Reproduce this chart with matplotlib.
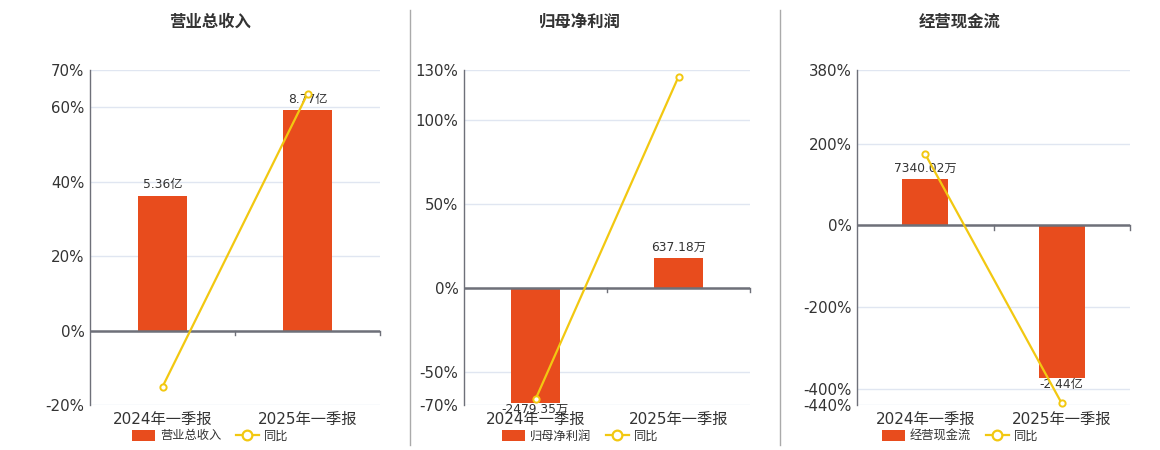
import matplotlib
matplotlib.use('Agg')
import matplotlib.pyplot as plt
from matplotlib.lines import Line2D
from matplotlib.patches import Patch

plt.rcParams['font.family'] = ['DejaVu Sans', 'Noto Sans CJK SC']

# data
periods = ['2024年一季报', '2025年一季报']
titles = ['营业总收入', '归母净利润', '经营现金流']
series_names = ['营业总收入', '归母净利润', '经营现金流']
bar_values = [[5.36, 8.77], [-2479.35, 637.18], [7340.02, -24400.0]]
bar_labels = [['5.36亿', '8.77亿'], ['-2479.35万', '637.18万'], ['7340.02万', '-2.44亿']]
yoy = [[-15.1, 63.6], [-66.6, 126.0], [174.0, -436.0]]
yticks = [[-20, 0, 20, 40, 60, 70], [-70, -50, 0, 50, 100, 130], [-440, -400, -200, 0, 200, 380]]

BAR = '#e84c1d'
LINE = '#f2c811'
TXT = '#333333'
AXC = '#6e7079'
GRID = '#e0e6f1'

W, H = 1160, 450
fig = plt.figure(figsize=(W / 100, H / 100), dpi=100)

# axes boxes in pixels: left, right, top, bottom
boxes = [(90, 380, 70, 405), (464, 750, 70, 405), (857, 1130, 70, 405)]
centers = [210, 580, 960]
# percent level the largest bar reaches (pixel layout of the original)
bar_reach = [59.3, -68.8, -374.6]

for i in range(3):
    l, r, t, b = boxes[i]
    ax_b = fig.add_axes([l / W, 1 - b / H, (r - l) / W, (b - t) / H])
    ax = ax_b.twinx()
    ax.set_zorder(ax_b.get_zorder() + 1)
    ax.patch.set_visible(False)

    lo, hi = yticks[i][0], yticks[i][-1]
    ax.set_ylim(lo, hi)
    ax.set_xlim(-0.5, 1.5)

    vals = bar_values[i]
    big = max(vals, key=abs)
    k = bar_reach[i] / big
    ax_b.set_ylim(lo / k, hi / k)

    # grid on the bar axes so bars cover it
    ax_b.set_yticks([v / k for v in yticks[i]])
    ax_b.tick_params(axis='y', length=0, labelleft=False, labelright=False)
    ax_b.grid(axis='y', color=GRID, lw=1)
    ax_b.set_axisbelow(True)
    ax_b.bar([0, 1], vals, width=0.34, color=BAR, zorder=2)
    for s in ax_b.spines.values():
        s.set_visible(False)

    ax_b.set_xticks([0, 1])
    ax_b.set_xticklabels(periods, fontsize=11, color=TXT)
    ax_b.tick_params(axis='x', length=0, pad=5)

    # bar value labels
    for x, v, lab in zip([0, 1], vals, bar_labels[i]):
        if v >= 0:
            ax_b.annotate(lab, (x, v), xytext=(0, 3), textcoords='offset points',
                          ha='center', va='bottom', fontsize=8.8, color=TXT)
        else:
            ax_b.annotate(lab, (x, v), xytext=(0, 0), textcoords='offset points',
                          ha='center', va='top', fontsize=8.8, color=TXT)

    # percent axis
    ax.yaxis.tick_left()
    ax.set_yticks(yticks[i])
    ax.set_yticklabels(['%d%%' % v for v in yticks[i]], fontsize=10.8, color=TXT)
    ax.tick_params(axis='y', length=0, pad=4)
    for name in ['top', 'right', 'bottom']:
        ax.spines[name].set_visible(False)
    ax.spines['left'].set_color(AXC)
    ax.spines['left'].set_linewidth(1)

    ax.axhline(0, color=AXC, lw=1.8, zorder=3)
    d = (hi - lo) * 0.014
    for xb in [0.5, 1.5]:
        ax.plot([xb, xb], [0, -d], color=AXC, lw=1, zorder=3, clip_on=False)

    ax.plot([0, 1], yoy[i], color=LINE, lw=1.6, marker='o', ms=4.5,
            mfc='white', mec=LINE, mew=1.4, zorder=5, clip_on=False)

    fig.text(centers[i] / W, 1 - 22 / H, titles[i], ha='center', va='center',
             fontsize=11.8, fontweight='bold', color=TXT)

    handles = [Patch(facecolor=BAR, edgecolor='none'),
               Line2D([0], [0], color=LINE, lw=1.6, marker='o', ms=7,
                      mfc='white', mec=LINE, mew=1.6)]
    fig.legend(handles, [series_names[i], '同比'], loc='center',
               bbox_to_anchor=(centers[i] / W, 1 - 436 / H), ncol=2, frameon=False,
               fontsize=8.8, labelcolor=TXT, handlelength=1.9, handleheight=1.0,
               handletextpad=0.4, columnspacing=1.2, borderpad=0)

# panel separators
for xs in [410, 780]:
    fig.add_artist(Line2D([xs / W, xs / W], [1 - 445 / H, 1 - 10 / H],
                          color='#aaaaaa', lw=1))

fig.savefig('out.png', dpi=100)
